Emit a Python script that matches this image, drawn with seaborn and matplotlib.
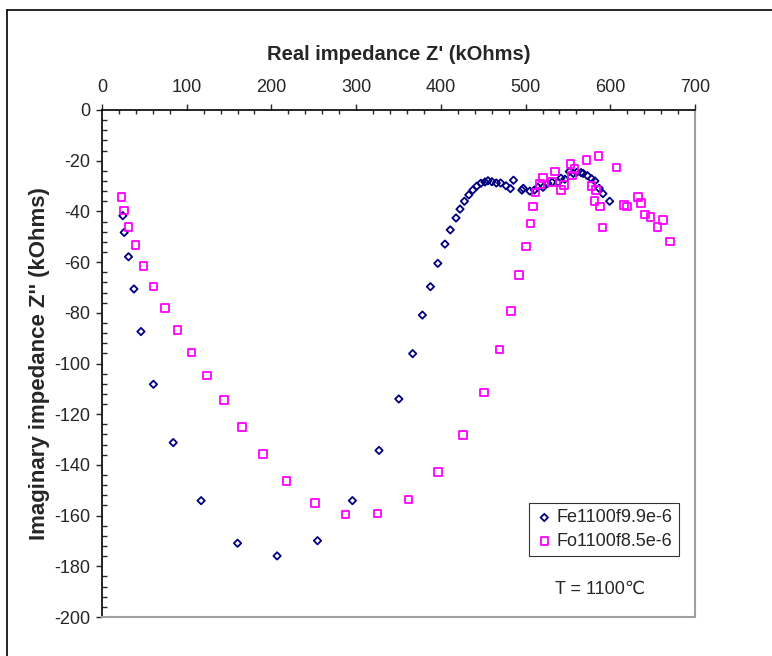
import matplotlib
matplotlib.use("Agg")
import matplotlib.pyplot as plt
from matplotlib.lines import Line2D
from matplotlib.ticker import MultipleLocator
import seaborn as sns
import pandas as pd

# Fe1100f9.9e-6 series (real, imaginary impedance, kOhms)
fe_re = [24.6, 26.2, 31.3, 37.7, 46.0, 60.7, 84.1, 117.0, 160.0, 206.7,
         254.4, 295.6, 327.0, 350.4, 366.7, 378.2, 387.7, 396.4, 404.8, 411.1,
         417.9, 422.6, 427.8, 433.0, 437.7, 442.5, 447.2, 452.0, 455.6, 460.3,
         465.5, 470.6, 477.0, 482.1, 485.7, 495.6, 497.3, 505.1, 510.4, 514.6,
         520.6, 526.2, 531.3, 538.5, 541.7, 546.4, 551.6, 556.3, 560.3, 565.5,
         567.9, 573.0, 577.8, 581.8, 586.9, 591.3, 599.2]
fe_im = [-41.7, -48.3, -57.9, -70.6, -87.4, -108.2, -131.2, -154.1, -170.9, -175.9,
         -169.9, -154.1, -134.3, -114.0, -96.1, -80.9, -69.7, -60.5, -52.9, -47.3,
         -42.6, -39.1, -36.0, -33.5, -31.6, -30.0, -28.9, -28.4, -27.9, -28.3,
         -28.8, -28.8, -29.9, -31.0, -27.7, -31.6, -30.9, -32.0, -31.6, -30.5,
         -30.5, -28.9, -28.5, -28.5, -26.9, -27.3, -24.3, -25.0, -24.6, -24.7,
         -25.0, -25.9, -27.1, -28.0, -30.9, -33.0, -36.0]

# Fo1100f8.5e-6 series
fo_re = [23.0, 26.2, 31.3, 39.7, 49.2, 61.0, 74.2, 88.9, 105.6, 123.8,
         143.7, 165.1, 189.7, 217.9, 251.2, 287.3, 325.4, 361.9, 396.4, 426.2,
         450.8, 469.0, 482.5, 492.5, 500.4, 505.6, 508.7, 511.9, 516.7, 520.6,
         531.0, 534.9, 541.7, 545.2, 553.2, 555.1, 557.9, 571.8, 577.8, 583.0,
         581.3, 586.1, 588.1, 590.9, 607.5, 616.3, 619.4, 632.5, 636.1, 640.8,
         647.3, 655.6, 662.3, 670.6]
fo_im = [-34.4, -39.6, -46.2, -53.3, -61.5, -69.6, -78.2, -86.9, -95.6, -104.7,
         -114.4, -125.0, -135.7, -146.4, -155.0, -159.6, -159.2, -153.6, -142.9, -128.2,
         -111.4, -94.5, -79.3, -65.0, -53.8, -44.7, -38.1, -32.5, -29.2, -26.8,
         -28.3, -24.2, -31.6, -29.5, -21.3, -25.8, -23.3, -19.7, -29.9, -31.6,
         -36.0, -18.1, -38.1, -46.3, -22.7, -37.5, -38.0, -34.4, -36.6, -41.2,
         -42.1, -46.2, -43.5, -51.8]

fe = pd.DataFrame({"re": fe_re, "im": fe_im})
fo = pd.DataFrame({"re": fo_re, "im": fo_im})

sns.set_style("white")
plt.rcParams["font.family"] = ["Liberation Sans", "DejaVu Sans"]
plt.rcParams["axes.unicode_minus"] = False

fig = plt.figure(figsize=(7.72, 6.56), dpi=100)
ax = fig.add_axes([102 / 772, 1 - 617 / 656, 593 / 772, 507 / 656])

sns.scatterplot(data=fe, x="re", y="im", ax=ax, marker="D", s=14,
                facecolor="none", edgecolor="#000080", linewidth=1.3,
                label="Fe1100f9.9e-6")
sns.scatterplot(data=fo, x="re", y="im", ax=ax, marker="s", s=30,
                facecolor="none", edgecolor="#FF00FF", linewidth=1.3,
                label="Fo1100f8.5e-6")

ax.set_xlim(0, 700)
ax.set_ylim(-200, 0)
ax.xaxis.tick_top()
ax.xaxis.set_label_position("top")
ax.xaxis.set_major_locator(MultipleLocator(100))
ax.xaxis.set_minor_locator(MultipleLocator(20))
ax.yaxis.set_major_locator(MultipleLocator(20))
ax.yaxis.set_minor_locator(MultipleLocator(4))

ax.tick_params(axis="x", which="major", direction="out", length=4, width=1,
               labelsize=13, pad=6, top=True, bottom=False)
ax.tick_params(axis="x", which="minor", direction="in", length=3, width=1,
               top=True, bottom=False)
ax.tick_params(axis="y", which="major", direction="out", length=4.5, width=1,
               labelsize=13, pad=4, left=True)
ax.tick_params(axis="y", which="minor", direction="in", length=3.5, width=1,
               left=True)

ax.set_xlabel("Real impedance Z' (kOhms)", fontsize=14.5, fontweight="bold",
              labelpad=14)
ax.set_ylabel("Imaginary impedance Z'' (kOhms)", fontsize=16, fontweight="bold",
              labelpad=3)

for side in ["left", "top"]:
    ax.spines[side].set_color("black")
    ax.spines[side].set_linewidth(1.2)
for side in ["right", "bottom"]:
    ax.spines[side].set_color("#a0a0a0")
    ax.spines[side].set_linewidth(1.5)

leg = ax.legend(loc="upper left", bbox_to_anchor=(0.72, 0.225), borderaxespad=0,
                fontsize=13, frameon=True, fancybox=False, handletextpad=0.2,
                handlelength=1.0, borderpad=0.35, labelspacing=0.35)
leg.get_frame().set_edgecolor("black")
leg.get_frame().set_linewidth(0.8)

ax.text(0.84, 0.055, "T = 1100\u2103", transform=ax.transAxes, fontsize=13,
        ha="center", va="center")

# outer chart frame
fig.add_artist(Line2D([7 / 772, 7 / 772], [0, 1 - 10 / 656], color="black",
                      linewidth=1.2, transform=fig.transFigure))
fig.add_artist(Line2D([7 / 772, 1], [1 - 10 / 656, 1 - 10 / 656], color="black",
                      linewidth=1.2, transform=fig.transFigure))

fig.savefig("out.png", dpi=100)
